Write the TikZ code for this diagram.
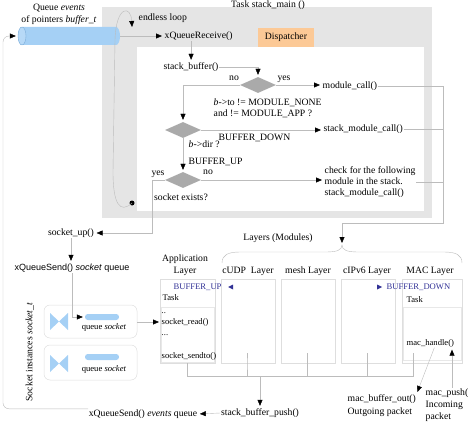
\documentclass[tikz,border=0pt]{standalone}
\usepackage{fontspec}
\setmainfont{Liberation Serif}
\newfontfamily\diagsans{Liberation Sans}
\usetikzlibrary{arrows.meta,shapes.geometric,calc}

\definecolor{boxgray}{RGB}{229,229,229}
\definecolor{dispatch}{RGB}{252,201,150}
\definecolor{qblue}{RGB}{165,208,245}
\definecolor{qbluedark}{RGB}{120,170,215}
\definecolor{diagray}{RGB}{170,170,170}
\definecolor{linegray}{RGB}{188,188,188}
\definecolor{dirblue}{RGB}{50,50,150}
\definecolor{framegray}{RGB}{222,222,222}

\begin{document}
\begin{tikzpicture}[x=1pt, y=-1pt,
  base/.style={inner sep=0.5pt, font=\fontsize{9.7}{11.5}\selectfont},
  txt/.style={base, text height=6.9pt, text depth=2.1pt},
  ltxt/.style={txt, anchor=west},
  small/.style={font=\fontsize{8.6}{10.5}\selectfont, text height=6.1pt, text depth=1.9pt},
  tip/.style={-{Triangle[length=6pt,width=5pt,color=black]}},
  wire/.style={draw=linegray, line width=0.4pt},
  flow/.style={wire, tip, shorten >=2pt},
  decision/.style={diamond, fill=diagray, minimum width=36pt, minimum height=16pt, inner sep=0pt},
  layerbox/.style={draw=framegray, line width=0.5pt, inner sep=0pt},
  taskframe/.style={draw=framegray!70, line width=0.4pt},
  sockbox/.style={draw=framegray, line width=0.5pt, rounded corners=6pt, inner sep=0pt},
  sockbar/.style={fill=qblue, rounded corners=2.8pt, minimum width=34pt, minimum height=6pt, inner sep=0pt},
  dirlabel/.style={ltxt, small, text=dirblue},
]
\useasboundingbox (0,0) rectangle (468,422);

% ---------- task stack_main ----------
\fill[boxgray] (102,7) rectangle (432,218);
\fill[white] (137,47) rectangle (424,211);
\node[txt, anchor=base] (tasktitle) at (268,7.6) {Task stack\_main ()};
\node[base, fill=dispatch, minimum width=56pt, minimum height=19pt] (disp) at (286,37.5) {Dispatcher};

% queue of events (horizontal cylinder)
\node[minimum width=102pt, minimum height=18pt, inner sep=0pt] (evqueue) at (69,36) {};
\fill[qblue] (22,27) -- (116,27) arc[start angle=-90, end angle=90, x radius=4, y radius=9]
  -- (22,45) arc[start angle=90, end angle=270, x radius=4, y radius=9] -- cycle;
\draw[qbluedark, line width=0.4pt, fill=qblue!80!white] (22,36) ellipse[x radius=4, y radius=9];
\node[base, align=center, font=\fontsize{9.7}{12}\selectfont] (evqlabel) at (59,14) {Queue \emph{events}\\of pointers \emph{buffer\_t}};

% endless loop
\node[circle, fill=black, inner sep=0pt, minimum size=5pt] (loopdot) at (132,203) {};
\draw[wire, tip] (loopdot.center) .. controls (120,214) and (113,204) .. (113,172)
  -- (115,40) .. controls (116,5) and (131,5) .. (132,27);
\node[ltxt] (looplbl) at (138,18) {endless loop};

% dispatcher flow
\node[ltxt] (recv) at (164,36) {xQueueReceive()};
\draw[flow] (evqueue.east) -- (recv.west);

\node[ltxt] (sbuf) at (163,67) {stack\_buffer()};
\draw[flow] (sbuf.north |- recv.south) -- (sbuf.north);

\node[decision] (d1) at (258,85) {};
\draw[flow] (sbuf.east) -| (d1.north);
\node[txt] (d1no) at (234,78) {no};
\node[txt] (d1yes) at (284,78) {yes};

\node[ltxt] (mcall) at (322,86) {module\_call()};
\draw[flow] (d1.east) -- (d1.east -| mcall.west);

\node[ltxt] (cond1) at (213,103) {\emph{b}->to != MODULE\_NONE};
\node[ltxt] (cond2) at (213,114) {and != MODULE\_APP ?};

\node[decision] (d2) at (183,130) {};
\draw[flow] (d1.west) -| (d2.north);

\node[ltxt] (smc) at (323,129) {stack\_module\_call()};
\draw[flow] (d2.east) -- (d2.east -| smc.west);
\node[ltxt] (bdown) at (218,138) {BUFFER\_DOWN};
\node[ltxt] (bdir) at (188,145) {\emph{b}->dir ?};

\node[decision] (d3) at (183,180) {};
\draw[flow] (d2.south) -- (d3.north);
\node[ltxt] (bup) at (188,162) {BUFFER\_UP};
\node[txt] (d3yes) at (158,173) {yes};
\node[txt] (d3no) at (208,172) {no};
\node[txt] (sockex) at (181,198) {socket exists?};

\node[base, align=left, anchor=west, font=\fontsize{9.7}{11}\selectfont] (check) at (324,182)
  {check for the following\\module in the stack.\\stack\_module\_call()};
\draw[flow] (d3.east) -- (d3.east -| check.west);

% results go to the layers
\coordinate (rail) at (443,223);
\coordinate (brtip) at (342,245);
\draw[flow] (mcall.east) -| (rail) -| (brtip);
\draw[wire] (smc.east) -- (smc.east -| rail);
\draw[wire] (check.east) -- (check.east -| rail);

% ---------- socket side ----------
\node[txt] (sockup) at (71,233) {socket\_up()};
\coordinate (upcorner) at (152,233);
\draw[flow] (d3.west) -| (upcorner) -- (sockup.east);

\node[txt, font=\diagsans\fontsize{9}{11}\selectfont] (sqsend) at (72,268) {xQueueSend() \emph{socket} queue};
\draw[flow] (sockup.south) -- (sockup.south |- sqsend.north);

\node[txt, rotate=90] (sinst) at (30,352) {Socket instances \emph{socket\_t}};

\node[sockbox, minimum width=93pt, minimum height=33pt] (sbox1) at (90.5,321.5) {};
\node[sockbox, minimum width=93pt, minimum height=35pt] (sbox2) at (90.5,362.5) {};
\fill[qblue] (50,313) -- (59,321.5) -- (50,330) -- cycle;
\fill[qblue] (68,313) -- (59,321.5) -- (68,330) -- cycle;
\fill[qblue] (50,355) -- (59,363.5) -- (50,372) -- cycle;
\fill[qblue] (68,355) -- (59,363.5) -- (68,372) -- cycle;
\node[sockbar] (sq1) at (102,317) {};
\node[sockbar] (sq2) at (102,357) {};
\node[txt, small] (sq1lbl) at (104,327) {queue \emph{socket}};
\node[txt, small] (sq2lbl) at (104,369) {queue \emph{socket}};
\draw[flow] (sqsend.south) |- (sq1.west);

% ---------- layers ----------
\node[txt] (layerslbl) at (278,238) {Layers (Modules)};
\draw[wire] (222,263) .. controls (222,255) and (228,252) .. (240,252) -- (326,252)
  .. controls (337,252) and (342,250) .. (brtip)
  .. controls (342,250) and (347,252) .. (358,252) -- (444,252)
  .. controls (456,252) and (462,255) .. (462,263);

\node[base, align=center, font=\fontsize{9.7}{12}\selectfont] (applbl) at (185,265) {Application\\Layer};
\node[txt] (udplbl) at (248,271) {cUDP\ \ Layer};
\node[txt] (meshlbl) at (308,271) {mesh Layer};
\node[txt] (ip6lbl) at (367,271) {cIPv6 Layer};
\node[txt] (maclbl) at (430,271) {MAC Layer};

\node[layerbox, minimum width=55pt, minimum height=84pt] (appbox) at (187.5,321) {};
\node[layerbox, minimum width=54pt, minimum height=84pt] (udpbox) at (248,321) {};
\node[layerbox, minimum width=54pt, minimum height=84pt] (meshbox) at (308,321) {};
\node[layerbox, minimum width=54pt, minimum height=84pt] (ip6box) at (368,321) {};
\node[layerbox, minimum width=60pt, minimum height=84pt] (macbox) at (432,321) {};
\draw[taskframe] (161,307) rectangle (214,362);
\draw[taskframe] (403,307) rectangle (461,360);

% application layer task
\node[dirlabel] (bufup) at (173,287) {BUFFER\_UP};
\fill[dirblue] (228,287) -- (233,284.5) -- (233,289.5) -- cycle;
\node[ltxt, small] (apptask) at (162,298) {Task};
\node[ltxt, small] (adots1) at (161,311) {..};
\node[ltxt, small] (sread) at (161,322) {socket\_read()};
\node[ltxt, small] (adots2) at (161,333) {...};
\node[ltxt, small] (ssend) at (161,356) {socket\_sendto()};
\draw[flow] (sbox1.east |- sread.west) -- (sread.west);

% MAC layer task
\node[dirlabel] (bufdown) at (386,287) {BUFFER\_DOWN};
\fill[dirblue] (382,287) -- (377,284.5) -- (377,289.5) -- cycle;
\node[ltxt, small] (mactask) at (406,300) {Task};
\node[ltxt, small] (mhandle) at (406,343) {mac\_handle()};

% layers feed the event queue
\coordinate (bus) at (261,376);
\coordinate (macdrop) at (413,353);
\draw[wire] (appbox.south) |- (macdrop |- bus) -- (macdrop);
\draw[wire] ($(udpbox.south)+(-1,-10)$) -- ($(udpbox.south)+(-1,0)$) |- (bus);
\draw[wire] ($(meshbox.south)+(-1,-10)$) -- ($(meshbox.south)+(-1,13)$);
\draw[wire] ($(ip6box.south)+(-1,-10)$) -- ($(ip6box.south)+(-1,13)$);

\node[txt] (sbp) at (260,413) {stack\_buffer\_push()};
\draw[flow] (sbp.north |- bus) -- (sbp.north);

\node[txt] (evq) at (143,414) {xQueueSend() \emph{events} queue};
\draw[flow] (sbp.west) -- (evq.east);
\coordinate (leftrail) at (3,36);
\draw[flow, rounded corners=6pt] (evq.north west) -| (leftrail) -- (evqueue.west);

% MAC in / out
\node[base, align=left, anchor=west, font=\fontsize{9.7}{13}\selectfont] (mbo) at (347,405.5) {mac\_buffer\_out()\\Outgoing packet};
\node[base, align=left, anchor=west, font=\fontsize{9.7}{12}\selectfont] (mpush) at (425,405) {mac\_push(\\Incoming\\packet};
\draw[flow] ($(mhandle.south)+(4,0)$) -- (mbo.north east);
\coordinate (pushx) at (452,0);
\draw[flow] (mpush.north -| pushx) -- (mhandle.south -| pushx);
\end{tikzpicture}
\end{document}
